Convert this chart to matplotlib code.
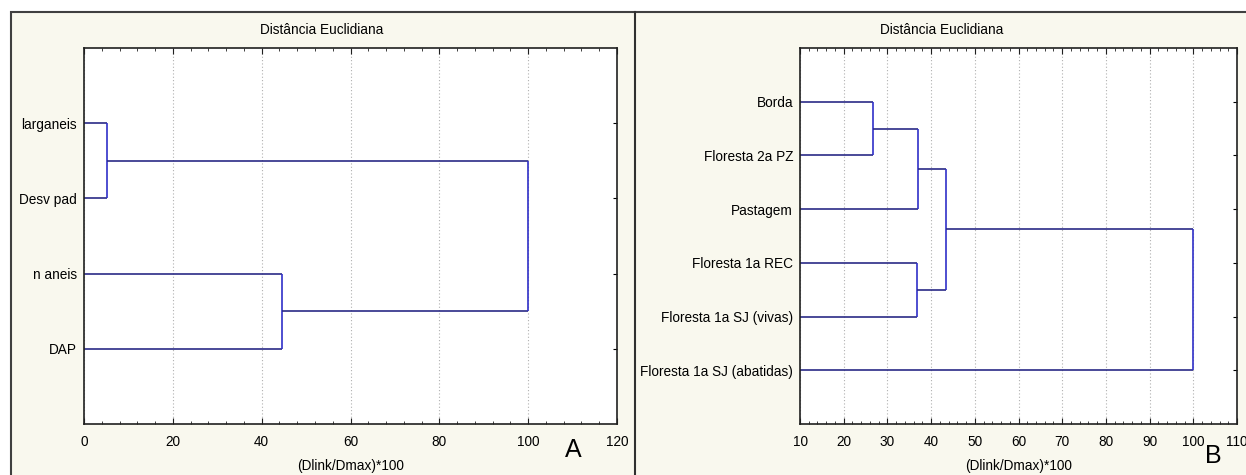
import numpy as np
import matplotlib.pyplot as plt
from matplotlib.patches import Rectangle
from matplotlib.lines import Line2D
from matplotlib.ticker import MultipleLocator

plt.rcParams["font.family"] = ["Liberation Sans", "DejaVu Sans"]

# panel A: leaves (top to bottom) and merges (child, child, distance)
leaves_a = ["larganeis", "Desv pad", "n aneis", "DAP"]
merges_a = [(0, 1, 5.2), (2, 3, 44.5), (4, 5, 100.0)]

# panel B
leaves_b = ["Borda", "Floresta 2a PZ", "Pastagem", "Floresta 1a REC",
            "Floresta 1a SJ (vivas)", "Floresta 1a SJ (abatidas)"]
merges_b = [(0, 1, 26.8), (6, 2, 37.0), (3, 4, 36.7), (7, 8, 43.4), (9, 5, 100.0)]

title = "Distância Euclidiana"
xlabel = "(Dlink/Dmax)*100"

W, H = 1246, 475
VCOL = "#3030c8"
HCOL = "#2a2a86"
FS = 9.8


def draw_tree(ax, leaves, merges):
    nodes = [(0.0, i + 1.0) for i in range(len(leaves))]
    for a, b, h in merges:
        (xa, ya), (xb, yb) = nodes[a], nodes[b]
        ax.plot([xa, h], [ya, ya], color=HCOL, lw=1.2, solid_capstyle="butt")
        ax.plot([xb, h], [yb, yb], color=HCOL, lw=1.2, solid_capstyle="butt")
        ax.plot([h, h], [ya, yb], color=VCOL, lw=1.2, solid_capstyle="butt")
        nodes.append((h, (ya + yb) / 2))
    ax.set_ylim(len(leaves) + 1, 0)
    ax.set_yticks(np.arange(1, len(leaves) + 1))
    ax.set_yticklabels(leaves)


fig = plt.figure(figsize=(W / 100, H / 100), dpi=100)

# cream panel background with border and divider
fig.patches.append(Rectangle((11 / W, -0.01), 1.0, (H - 12) / H + 0.01,
                             transform=fig.transFigure, facecolor="#f9f8ee",
                             edgecolor="#404040", lw=1.5, zorder=-2))
fig.lines.append(Line2D([635 / W, 635 / W], [0, (H - 12) / H],
                        transform=fig.transFigure, color="#303030", lw=1.5,
                        zorder=-1))

axA = fig.add_axes([84 / W, (H - 424) / H, 533 / W, 376 / H])
axB = fig.add_axes([800 / W, (H - 424) / H, 437 / W, 376 / H])

draw_tree(axA, leaves_a, merges_a)
draw_tree(axB, leaves_b, merges_b)

axA.set_xlim(0, 120)
axA.xaxis.set_major_locator(MultipleLocator(20))
axA.xaxis.set_minor_locator(MultipleLocator(4))
axB.set_xlim(10, 110)
axB.xaxis.set_major_locator(MultipleLocator(10))
axB.xaxis.set_minor_locator(MultipleLocator(2))

for ax in (axA, axB):
    ax.set_facecolor("white")
    ax.grid(axis="x", which="major", color="#b0b0b0", linestyle=(0, (1, 2)), lw=0.8)
    ax.set_axisbelow(True)
    ax.tick_params(axis="x", which="both", direction="in", top=True, bottom=True,
                   labelsize=FS, pad=8, color="#202020")
    ax.tick_params(axis="x", which="major", length=4)
    ax.tick_params(axis="x", which="minor", length=2.5)
    ax.tick_params(axis="y", direction="in", left=False, right=True, length=3,
                   labelsize=FS, pad=5)
    for s in ax.spines.values():
        s.set_color("#202020")
        s.set_linewidth(1.2)
    ax.set_xlabel(xlabel, fontsize=FS, labelpad=7)

fig.text(322 / W, 1 - 30 / H, title, ha="center", va="center", fontsize=FS)
fig.text(942 / W, 1 - 30 / H, title, ha="center", va="center", fontsize=FS)
fig.text(573 / W, 1 - 450 / H, "A", ha="center", va="center", fontsize=18)
fig.text(1213 / W, 1 - 456 / H, "B", ha="center", va="center", fontsize=18)

fig.savefig("out.png", dpi=100)
